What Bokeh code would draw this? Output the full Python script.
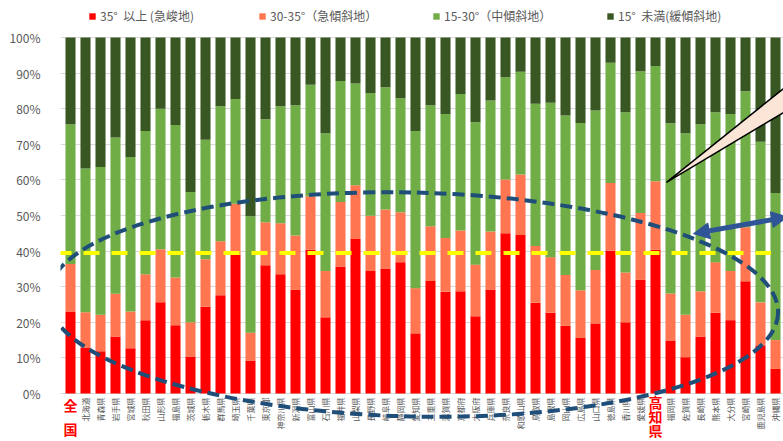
from math import pi
from bokeh.plotting import figure
from bokeh.models import (ColumnDataSource, Range1d, FixedTicker, Legend,
                          LegendItem, Arrow, NormalHead)
from bokeh.core.properties import value
from bokeh.embed import file_html
from bokeh.resources import INLINE

# ---------------- data ----------------
PREFECTURES = ["全国", "北海道", "青森県", "岩手県", "宮城県", "秋田県", "山形県", "福島県",
               "茨城県", "栃木県", "群馬県", "埼玉県", "千葉県", "東京都", "神奈川県", "新潟県",
               "富山県", "石川県", "福井県", "山梨県", "長野県", "岐阜県", "静岡県", "愛知県",
               "三重県", "滋賀県", "京都府", "大阪府", "兵庫県", "奈良県", "和歌山県", "鳥取県",
               "島根県", "岡山県", "広島県", "山口県", "徳島県", "香川県", "愛媛県", "高知県",
               "福岡県", "佐賀県", "長崎県", "熊本県", "大分県", "宮崎県", "鹿児島県", "沖縄県"]

STEEP_35_PLUS = [23.0, 12.9, 11.9, 16.0, 12.7, 20.6, 25.6, 19.2,
                 10.4, 24.4, 27.6, 39.0, 9.3, 36.0, 33.5, 29.1,
                 40.4, 21.4, 35.7, 43.4, 34.4, 35.1, 36.9, 16.9,
                 31.6, 28.6, 28.7, 21.7, 29.2, 45.0, 44.5, 25.5,
                 22.7, 19.0, 15.6, 19.7, 40.1, 20.0, 31.9, 40.4,
                 14.9, 10.2, 16.0, 22.7, 20.6, 31.5, 13.5, 6.9]
STEEP_30_35 = [13.4, 9.9, 10.2, 12.0, 10.3, 12.9, 14.9, 13.4,
               9.6, 13.3, 15.2, 14.3, 7.8, 12.1, 14.3, 15.3,
               15.0, 13.0, 18.1, 15.1, 15.5, 16.6, 14.0, 12.7,
               15.4, 15.1, 17.1, 14.5, 16.3, 15.1, 17.0, 15.9,
               15.6, 14.3, 13.4, 15.0, 19.0, 14.0, 18.8, 19.2,
               13.2, 11.9, 12.7, 14.2, 13.8, 15.2, 12.1, 8.1]
MID_15_30 = [39.2, 40.4, 41.5, 43.9, 43.4, 40.2, 39.5, 42.8,
             36.6, 33.6, 37.9, 29.4, 32.7, 28.9, 32.9, 36.6,
             31.3, 38.7, 34.0, 28.6, 34.5, 34.3, 32.0, 44.1,
             34.0, 34.8, 38.3, 40.0, 36.8, 28.7, 28.9, 40.0,
             43.4, 44.8, 47.0, 44.8, 33.8, 45.0, 39.8, 32.4,
             47.8, 51.0, 46.9, 42.1, 44.1, 38.2, 45.1, 41.3]
GENTLE_UNDER_15 = [24.4, 36.8, 36.4, 28.1, 33.6, 26.3, 20.0, 24.6,
                   43.4, 28.7, 19.3, 17.3, 50.2, 23.0, 19.3, 19.0,
                   13.3, 26.9, 12.2, 12.9, 15.6, 14.0, 17.1, 26.3,
                   19.0, 21.5, 15.9, 23.8, 17.7, 11.2, 9.6, 18.6,
                   18.3, 21.9, 24.0, 20.5, 7.1, 21.0, 9.5, 8.0,
                   24.1, 26.9, 24.4, 21.0, 21.5, 15.1, 29.3, 43.7]

SERIES_LABELS = ["35°  以上 (急峻地)", "30-35°（急傾斜地）", "15-30°（中傾斜地）", "15°  未満(緩傾斜地)"]
Y_TICKS = [0, 10, 20, 30, 40, 50, 60, 70, 80, 90, 100]
Y_TICK_LABELS = ["0%", "10%", "20%", "30%", "40%", "50%", "60%", "70%", "80%", "90%", "100%"]
HIGHLIGHTED = ["全国", "高知県"]
AVERAGE_LEVEL = 39.5

# ---------------- styles ----------------
COLORS = ["#FF0000", "#FF7650", "#70AD47", "#385723"]
FONT = "Noto Sans CJK JP"
GRAY = "#595959"

x_idx = list(range(len(PREFECTURES)))
source = ColumnDataSource(dict(x=x_idx, s35=STEEP_35_PLUS, s30=STEEP_30_35,
                               s15=MID_15_30, s0=GENTLE_UNDER_15))

p = figure(width=783, height=441,
           x_range=Range1d(-0.667, 47.533), y_range=Range1d(-13.48, 110.39),
           output_backend="svg", toolbar_location=None, x_axis_location=None,
           min_border_left=60, min_border_right=0, min_border_top=0, min_border_bottom=0)
p.outline_line_color = None
p.background_fill_color = "white"
p.border_fill_color = "white"

# y axis
p.yaxis.ticker = FixedTicker(ticks=Y_TICKS)
p.yaxis.major_label_overrides = {t: lab for t, lab in zip(Y_TICKS, Y_TICK_LABELS)}
p.yaxis.axis_line_color = None
p.yaxis.major_tick_line_color = None
p.yaxis.minor_tick_line_color = None
p.yaxis.major_label_text_color = GRAY
p.yaxis.major_label_text_font = FONT
p.yaxis.major_label_text_font_size = "12px"
p.yaxis.major_label_standoff = 14
p.ygrid.ticker = FixedTicker(ticks=Y_TICKS)
p.ygrid.grid_line_color = "#D9D9D9"
p.ygrid.grid_line_width = 1
for g in p.xgrid:
    g.visible = False

# stacked bars
renderers = p.vbar_stack(["s35", "s30", "s15", "s0"], x="x", width=0.67,
                         fill_color=COLORS, line_color=None, source=source)

# category labels (vertical, small gray)
lab_x = [i for i, n in enumerate(PREFECTURES) if n not in HIGHLIGHTED]
lab_t = [n for n in PREFECTURES if n not in HIGHLIGHTED]
p.text(x=lab_x, y=[-1.1] * len(lab_x), text=lab_t, angle=pi / 2,
       text_align="right", text_baseline="middle",
       text_font=value(FONT), text_font_size="8px", text_color=GRAY)

# highlighted labels (big red, stacked)
i_all = PREFECTURES.index(HIGHLIGHTED[0])
i_kochi = PREFECTURES.index(HIGHLIGHTED[1])
p.text(x=[i_all], y=[-0.3], text=["\n".join(HIGHLIGHTED[0])],
       text_align="center", text_baseline="top", text_line_height=1.2,
       text_font=value(FONT), text_font_size="14px", text_font_style="bold",
       text_color="#FF0000")
p.text(x=[i_kochi], y=[0.3], text=["\n".join(HIGHLIGHTED[1])],
       text_align="center", text_baseline="top", text_line_height=0.7,
       text_font=value(FONT), text_font_size="14px", text_font_style="bold",
       text_color="#FF0000")

# average yellow dashed line
p.line(x=[-1.0, 46.7], y=[AVERAGE_LEVEL, AVERAGE_LEVEL], line_color="#FFFF00",
       line_width=4, line_dash="16 12")

# dashed ellipse
p.ellipse(x=22.83, y=25.0, width=48.7, height=62.9, angle=-0.023,
          fill_color=None, line_color="#1F4E79", line_width=4, line_dash="12 6")

# callout pointer
p.patch(x=[39.73, 48.67, 48.67], y=[59.3, 89.5, 81.8],
        fill_color="#FBE5D6", line_color="black", line_width=1.5)

# double arrow
p.add_layout(Arrow(x_start=41.53, y_start=44.9, x_end=47.8, y_end=49.6,
                   line_color="#2F5597", line_width=5,
                   start=NormalHead(size=16, fill_color="#2F5597", line_color="#2F5597"),
                   end=NormalHead(size=16, fill_color="#2F5597", line_color="#2F5597")))

# legends (one per item, placed like the reference)
legend_x = [28, 198, 372, 546]
for r, lab, lx in zip(renderers, SERIES_LABELS, legend_x):
    lg = Legend(items=[LegendItem(label=lab, renderers=[r])], location=(lx, 417),
                orientation="horizontal", padding=0, margin=0, spacing=0,
                glyph_width=8, glyph_height=8, label_standoff=4, label_height=14,
                label_text_font=FONT, label_text_font_size="12px",
                label_text_color=GRAY, border_line_alpha=0, background_fill_alpha=0)
    p.add_layout(lg, "center")

open("out.html", "w").write(file_html(p, INLINE))
